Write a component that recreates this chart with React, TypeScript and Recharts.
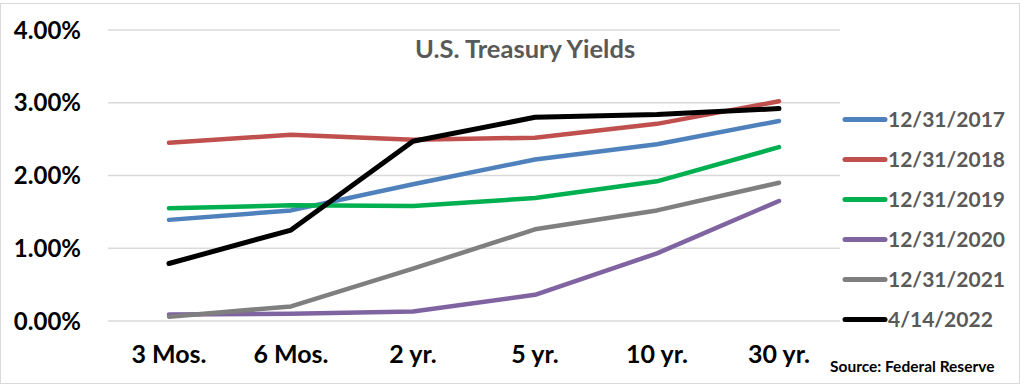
import React from 'react';
import { LineChart, Line, XAxis, YAxis, CartesianGrid } from 'recharts';

const categories = ['3 Mos.', '6 Mos.', '2 yr.', '5 yr.', '10 yr.', '30 yr.'];
const y2017 = [1.39, 1.52, 1.88, 2.22, 2.43, 2.75];
const y2018 = [2.45, 2.56, 2.49, 2.52, 2.71, 3.02];
const y2019 = [1.55, 1.59, 1.58, 1.69, 1.92, 2.39];
const y2020 = [0.09, 0.10, 0.13, 0.36, 0.93, 1.65];
const y2021 = [0.06, 0.20, 0.72, 1.26, 1.52, 1.90];
const y2022 = [0.79, 1.25, 2.47, 2.80, 2.84, 2.92];
const yTicks = [0, 1, 2, 3, 4];

const seriesNames = ['12/31/2017', '12/31/2018', '12/31/2019', '12/31/2020', '12/31/2021', '4/14/2022'];
const seriesValues = [y2017, y2018, y2019, y2020, y2021, y2022];
const seriesColors = ['#4F81BD', '#C0504D', '#00B050', '#8064A2', '#7F7F7F', '#000000'];
const seriesWidths = [4.5, 4.5, 4.5, 4.5, 4.5, 5];

const data = categories.map((c, i) => {
  const row: Record<string, number | string> = { cat: c };
  seriesNames.forEach((n, k) => {
    row[n] = seriesValues[k][i];
  });
  return row;
});

const FONT = 'Lato, "Open Sans", sans-serif';

const XTick = (props: any) => {
  const { x, y, payload } = props;
  return (
    <text x={x} y={y + 34} textAnchor="middle" fontFamily={FONT} fontWeight={700} fontSize={25} fill="#000">
      {payload.value}
    </text>
  );
};

const YTick = (props: any) => {
  const { y, payload } = props;
  return (
    <text x={81} y={y} dy="0.36em" textAnchor="end" fontFamily={FONT} fontWeight={700} fontSize={24} fill="#000">
      {Number(payload.value).toFixed(2) + '%'}
    </text>
  );
};

export default function App() {
  return (
    <div style={{ position: 'absolute', left: 0, top: 0, width: 1024, height: 387, background: '#fff' }}>
      <div style={{ position: 'absolute', left: 0, top: 3, width: 1020, height: 381, border: '1px solid #d9d9d9', boxSizing: 'border-box' }} />
      <div style={{ position: 'absolute', left: 0, top: 0 }}>
        <LineChart width={1024} height={387} data={data} margin={{ top: 30, right: 184, bottom: 26, left: 8 }}>
          <CartesianGrid horizontal vertical={false} stroke="#d9d9d9" strokeWidth={1.5} />
          <XAxis dataKey="cat" scale="band" axisLine={false} tickLine={false} tick={<XTick />} height={40} interval={0} />
          <YAxis domain={[0, 4]} ticks={yTicks} axisLine={false} tickLine={false} tick={<YTick />} width={100} />
          {seriesNames.map((n, k) => (
            <Line
              key={n}
              type="linear"
              dataKey={n}
              stroke={seriesColors[k]}
              strokeWidth={seriesWidths[k]}
              strokeLinecap="round"
              strokeLinejoin="round"
              dot={false}
              activeDot={false}
              isAnimationActive={false}
            />
          ))}
        </LineChart>
      </div>
      <svg style={{ position: 'absolute', left: 0, top: 0 }} width={1024} height={387}>
        <text x={415} y={58} fontFamily={FONT} fontWeight={700} fontSize={25.5} fill="#595959">U.S. Treasury Yields</text>
        {seriesNames.map((n, k) => {
          const cy = 119.5 + k * 40;
          return (
            <g key={n}>
              <line x1={845} x2={885} y1={cy} y2={cy} stroke={seriesColors[k]} strokeWidth={5} strokeLinecap="round" />
              <text x={888} y={cy} dy="0.36em" fontFamily={FONT} fontWeight={700} fontSize={21} fill="#595959">{n}</text>
            </g>
          );
        })}
        <text x={830} y={372} fontFamily={FONT} fontWeight={700} fontSize={15.5} fill="#000">Source: Federal Reserve</text>
      </svg>
    </div>
  );
}
